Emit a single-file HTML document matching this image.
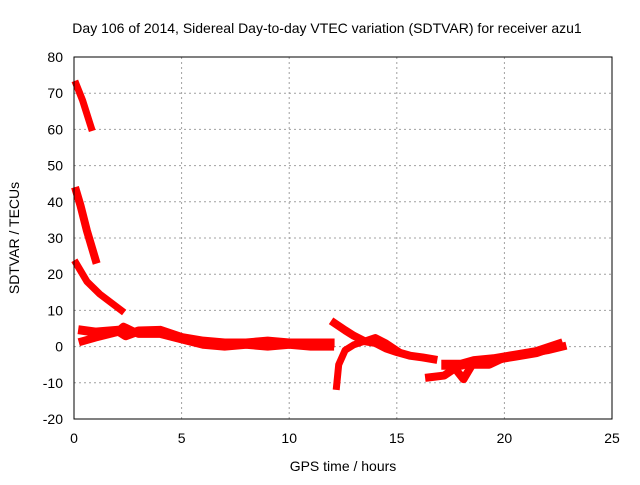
<!DOCTYPE html>
<html><head><meta charset="utf-8"><style>
body{margin:0;background:#fff;}
svg text{font-family:"Liberation Sans",sans-serif;font-size:14px;fill:#000;}
</style></head><body>
<svg id="chart" width="640" height="480">
<text x="327" y="33" text-anchor="middle">Day 106 of 2014, Sidereal Day-to-day VTEC variation (SDTVAR) for receiver azu1</text>
<text x="343" y="471" text-anchor="middle">GPS time / hours</text>
<text transform="translate(19,238) rotate(-90)" text-anchor="middle">SDTVAR / TECUs</text>
<g id="grid"></g><g id="series"></g>
<rect x="74" y="57" width="538" height="362" fill="none" stroke="#000" stroke-width="1"/>
</svg>
<script>
const xTicks=[0,5,10,15,20,25];
const yTicks=[-20,-10,0,10,20,30,40,50,60,70,80];
const arcA=[[0.1,72.5],[0.4,68],[0.8,60.5]];
const arcB=[[0.1,43],[0.3,39],[0.6,32],[1.0,24]];
const arcC=[[0.1,23],[0.6,18],[1.2,14.5],[2.2,10]];
const bandUpper=[[0.4,4.5],[1,4],[2,4.5],[2.4,3],[3,4.3],[4,4.5],[4.5,3.5],[5,2.5],[6,1.5],[7,1],[8,1],[9,1.5],[10,1],[11,1],[11.9,1]];
const bandLower=[[0.4,1.5],[1,2.5],[2,4],[2.3,5.5],[3,3.5],[4,3.5],[5,2],[6,0.5],[7,0],[8,0.5],[9,0],[10,0.5],[11,0],[11.9,0]];
const arcE=[[12.1,6.5],[12.6,4.5],[13,3],[13.5,1.5],[14,1],[14.5,-0.5],[15,-1.5],[15.6,-2.5],[16.2,-3],[16.7,-3.5]];
const arcF=[[12.2,-11],[12.3,-5],[12.6,-1],[13,0.5],[13.5,1.5],[14,2.5],[14.5,1],[15,-1]];
const arcG=[[16.5,-8.5],[17.2,-8],[17.7,-6],[18.1,-9],[18.5,-5],[19.3,-5],[20,-3],[21,-2],[22,-1],[22.7,0]];
const arcH=[[17.3,-5],[18,-5],[18.6,-4],[19.5,-3.5],[20.5,-2.5],[21.5,-1.5],[22.5,0.5]];
const sx=v=>74+v*21.52, sy=v=>346.6-v*3.62;
const NS="http://www.w3.org/2000/svg";
const g=document.getElementById('grid'), s=document.getElementById('series');
xTicks.forEach(t=>{
 const l=document.createElementNS(NS,'line');
 
 
 l.setAttribute('x1',sx(t));l.setAttribute('x2',sx(t));l.setAttribute('y1',57);l.setAttribute('y2',419);
 l.setAttribute('stroke','#a0a0a0');l.setAttribute('stroke-dasharray','2,3');g.appendChild(l);
 const tx=document.createElementNS(NS,'text');
 
 
 tx.setAttribute('x',sx(t));tx.setAttribute('y',443);tx.setAttribute('text-anchor','middle');tx.textContent=t;g.appendChild(tx);
});
yTicks.forEach(t=>{
 const l=document.createElementNS(NS,'line');
 
 
 l.setAttribute('x1',74);l.setAttribute('x2',612);l.setAttribute('y1',sy(t));l.setAttribute('y2',sy(t));
 l.setAttribute('stroke','#a0a0a0');l.setAttribute('stroke-dasharray','2,3');g.appendChild(l);
 const tx=document.createElementNS(NS,'text');
 
 
 tx.setAttribute('x',63);tx.setAttribute('y',sy(t)+5);tx.setAttribute('text-anchor','end');tx.textContent=t;g.appendChild(tx);
});
[[arcA,7],[arcB,8],[arcC,7],[bandUpper,9],[bandLower,8],[arcE,8],[arcF,7],[arcG,8],[arcH,10]].forEach(([arr,w])=>{
 const p=document.createElementNS(NS,'polyline');
 
 
 p.setAttribute('points',arr.map(d=>sx(d[0])+','+sy(d[1])).join(' '));
 p.setAttribute('fill','none');p.setAttribute('stroke','#ff0000');p.setAttribute('stroke-width',w);
 p.setAttribute('stroke-linejoin','round');p.setAttribute('stroke-linecap','square');s.appendChild(p);
});
</script>
</body></html>
